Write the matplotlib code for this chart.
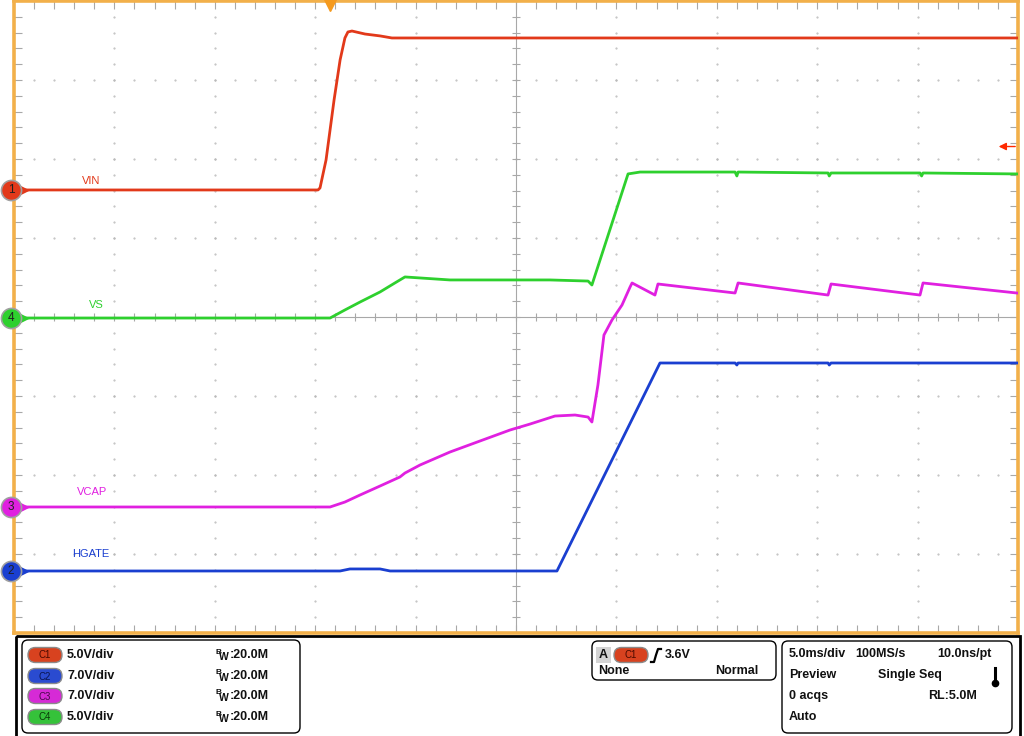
import numpy as np
import matplotlib
matplotlib.use("Agg")
import matplotlib.pyplot as plt
from matplotlib.patches import FancyBboxPatch, Rectangle

plt.rcParams['font.family'] = ['Liberation Sans', 'DejaVu Sans']

# ------------------------------------------------------------
# CAPTURED TRACES  (time in ms, amplitude in V)
# ------------------------------------------------------------

MS_PER_DIV = 5.0

vin_t = [0, 15.14, 15.24, 15.54, 15.94, 16.24, 16.48, 16.63, 16.83, 17.48, 18.23, 18.82, 49.95]
vin_v = [0, 0, 0.13, 1.90, 5.70, 8.23, 9.62, 10.0, 10.06, 9.87, 9.75, 9.62, 9.62]

hgate_t = [0, 16.24, 16.73, 18.23, 18.73, 27.04, 32.17, 35.91, 36.0, 36.06, 40.54, 40.6, 40.69, 49.95]
hgate_v = [0, 0, 0.18, 0.18, 0, 0, 18.43, 18.43, 18.25, 18.43, 18.43, 18.25, 18.43, 18.43]

vcap_t = [0, 15.74, 16.48, 17.23, 18.23, 19.22, 19.47, 20.22, 21.71, 23.21, 24.70, 25.70,
          26.94, 27.94, 28.59, 28.78, 29.08, 29.38, 29.78, 30.28, 30.68, 30.78, 31.92,
          32.07, 35.91, 36.06, 40.54, 40.69, 45.12, 45.27, 49.95]
vcap_v = [0, 0, 0.44, 1.06, 1.86, 2.66, 3.01, 3.72, 4.87, 5.85, 6.82, 7.35,
          8.06, 8.15, 7.97, 7.53, 10.81, 15.24, 16.57, 17.90, 19.49, 19.85, 18.78,
          19.76, 18.96, 19.85, 18.78, 19.76, 18.78, 19.85, 18.96]

vs_t = [0, 15.74, 16.48, 17.23, 18.23, 18.97, 19.47, 21.71, 24.20, 26.69, 28.59, 28.78,
        30.58, 31.18, 35.91, 36.0, 36.06, 40.54, 40.6, 40.69, 45.12, 45.2, 45.27, 49.95]
vs_v = [0, 0, 0.51, 1.01, 1.65, 2.22, 2.60, 2.41, 2.41, 2.41, 2.34, 2.09,
        9.12, 9.24, 9.24, 8.99, 9.24, 9.18, 8.99, 9.18, 9.18, 8.99, 9.18, 9.12]

# channel setup: number, name, V/div, ground position (div), colour
ch_num = [1, 2, 3, 4]
ch_name = ["VIN", "HGATE", "VCAP", "VS"]
ch_scale = [5.0, 7.0, 7.0, 5.0]
ch_offset = [1.608, -3.215, -2.405, -0.013]
ch_color = ["#e2391a", "#1a3fd0", "#e020e0", "#2ed02e"]
ch_pill = ["#d8421f", "#2a4bd0", "#d62ad6", "#35c23a"]
ch_text = ["#4a0a00", "#0a1550", "#4a0a4a", "#0a3a0a"]
traces = [(vin_t, vin_v), (hgate_t, hgate_v), (vcap_t, vcap_v), (vs_t, vs_v)]
label_pos = [(0.77, 1.72), (0.76, -3.0), (0.78, -2.22), (0.82, 0.15)]

trigger_time = 15.74
trigger_level = 3.6

GRID = "#a8a8a8"
ORANGE = "#f2b04a"

# ------------------------------------------------------------
# FIGURE
# ------------------------------------------------------------

fig = plt.figure(figsize=(10.24, 7.36), dpi=100)

# pixel overlay for the status panel
ov = fig.add_axes([0, 0, 1, 1])
ov.set_xlim(0, 1024)
ov.set_ylim(736, 0)
ov.axis('off')

ax = fig.add_axes([14 / 1024, 103 / 736, 1004 / 1024, 632 / 736])
ax.set_xlim(0, 10)
ax.set_ylim(-4, 4)

# graticule dots
ys = np.arange(-4, 4.001, 0.2)
xs = np.arange(0, 10.001, 0.2)
for gx in [1, 2, 3, 4, 6, 7, 8, 9]:
    ax.plot(np.full(len(ys), gx), ys, ls='none', marker='.', ms=1.0, color='#b8b8b8', zorder=1)
for gy in [-3, -2, -1, 1, 2, 3]:
    ax.plot(xs, np.full(len(xs), gy), ls='none', marker='.', ms=1.0, color='#b8b8b8', zorder=1)

# center crosshair with minor ticks
ax.axhline(0, color=GRID, lw=0.8, zorder=1)
ax.axvline(5, color=GRID, lw=0.8, zorder=1)
ax.plot(xs, np.zeros(len(xs)), ls='none', marker='|', ms=6, mew=0.8, color=GRID, zorder=1)
ax.plot(np.full(len(ys), 5), ys, ls='none', marker='_', ms=6, mew=0.8, color=GRID, zorder=1)

# edge ticks
ax.set_xticks(xs)
ax.set_yticks(ys)
ax.tick_params(direction='in', length=6, width=0.8, color=GRID, top=True, right=True,
               labelbottom=False, labelleft=False)
for sp in ax.spines.values():
    sp.set_color(ORANGE)
    sp.set_linewidth(2.6)

# traces
for i in range(4):
    t, v = traces[i]
    xd = np.array(t) / MS_PER_DIV
    yd = np.array(v) / ch_scale[i] + ch_offset[i]
    ax.plot(xd, yd, color=ch_color[i], lw=2.0, zorder=3)
    lx, ly = label_pos[i]
    ax.text(lx, ly, ch_name[i], color=ch_color[i], fontsize=8, ha='center', va='center')

    # ground marker on the left edge
    ax.plot(0.09, ch_offset[i], marker='>', ms=7, color=ch_color[i], clip_on=False, zorder=5)
    ax.scatter([-0.03], [ch_offset[i]], s=210, color=ch_color[i], edgecolor='#a0a0a0',
               lw=1.2, clip_on=False, zorder=6)
    ax.text(-0.03, ch_offset[i], str(ch_num[i]), color='#202020', fontsize=8.5,
            ha='center', va='center', zorder=7, clip_on=False)

# trigger position and level markers
ax.plot(trigger_time / MS_PER_DIV, 3.95, marker='v', ms=8, color='#f59a1e', clip_on=False, zorder=6)
trig_div = trigger_level / ch_scale[0] + ch_offset[0] - 0.17
ax.annotate('', xy=(9.78, trig_div), xytext=(10.0, trig_div),
            arrowprops=dict(arrowstyle='-|>', color='#ff2a00', lw=1.0, mutation_scale=11))

# ------------------------------------------------------------
# STATUS PANEL
# ------------------------------------------------------------

def rbox(x0, y0, x1, y1):
    ov.add_patch(FancyBboxPatch((x0, y0), x1 - x0, y1 - y0,
                                boxstyle="round,pad=0,rounding_size=6",
                                fc='white', ec='black', lw=1.0))


def pill(cx, cy, color, label, tcolor):
    w, h = 34, 15
    ov.add_patch(FancyBboxPatch((cx - w / 2, cy - h / 2), w, h,
                                boxstyle=f"round,pad=0,rounding_size={h / 2}",
                                fc=color, ec='#8a8a8a', lw=1.0))
    ov.text(cx, cy + 0.5, label, color=tcolor, fontsize=7, ha='center', va='center')


def btext(x, y, s, ha='left'):
    ov.text(x, y, s, fontsize=9, fontweight='bold', ha=ha, va='center', color='#111111')


ov.add_patch(Rectangle((16, 636), 1004, 104, fill=False, ec='black', lw=2.0))
rbox(22, 640, 300, 733)
rbox(592, 641, 776, 680)
rbox(782, 641, 1012, 733)

rows_y = [655, 676, 696, 717]
for i in range(4):
    y = rows_y[i]
    pill(45, y, ch_pill[i], f"C{ch_num[i]}", ch_text[i])
    btext(67, y, f"{ch_scale[i]:.1f}V/div")
    ov.text(215, y - 3, "B", fontsize=6, fontweight='bold', ha='left', va='center', color='#111111')
    ov.text(219, y + 2, "W", fontsize=7.5, fontweight='bold', ha='left', va='center', color='#111111')
    btext(230, y, ":20.0M")

# trigger box
ov.add_patch(Rectangle((596, 647), 15, 16, fc='#d4d4d4', ec='none'))
btext(603.5, 655, "A", ha='center')
pill(631, 655, ch_pill[0], "C1", ch_text[0])
ov.plot([651, 654, 656, 658, 661], [662, 662, 655, 649, 649], color='black', lw=1.6)
btext(665, 655, f"{trigger_level:.1f}V")
btext(598, 671, "None")
btext(715, 671, "Normal")

# acquisition box
btext(789, 654, f"{MS_PER_DIV:.1f}ms/div")
btext(855, 654, "100MS/s")
btext(937, 654, "10.0ns/pt")
btext(789, 675, "Preview")
btext(878, 675, "Single Seq")
btext(789, 696, "0 acqs")
btext(928, 696, "RL:5.0M")
btext(789, 717, "Auto")
ov.plot([995, 995], [668, 683], color='black', lw=2.2)
ov.plot(995, 683, marker='o', ms=4.5, color='black')

fig.savefig("out.png", dpi=100)
